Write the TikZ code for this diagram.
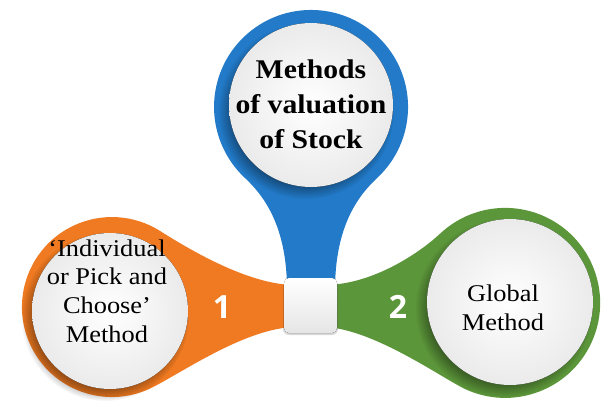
\documentclass[tikz,border=0pt]{standalone}
\usepackage{fontspec}
\setmainfont{Liberation Serif}[FakeStretch=1.1]
\newfontfamily\numfont{Open Sans}
\usetikzlibrary{fadings}
\definecolor{pinblue}{RGB}{34,122,200}
\definecolor{pinorange}{RGB}{239,122,33}
\definecolor{pingreen}{RGB}{92,150,58}
\tikzset{
  disc/.style={inner color=white, outer color=black!8},
  softshadow/.style={black, opacity=0.35, path fading=circle with fuzzy edge 15 percent},
  numlabel/.style={text=white, font=\numfont\bfseries\fontsize{32}{32}\selectfont},
  titletext/.style={align=center, font=\bfseries\fontsize{27}{35}\selectfont},
  bodytext/.style={align=center, font=\fontsize{24}{28.7}\selectfont},
  hubbox/.style={rounded corners=5pt, top color=white, bottom color=black!10},
}
\begin{document}
\begin{tikzpicture}[x=1pt,y=-1pt]
\useasboundingbox (0,0) rectangle (602,400);
% blue pin
\fill[pinblue] (377.2,177.9) arc[start angle=47,end angle=-227,radius=97]
  .. controls (263,195) and (287,225) .. (287,290) -- (335,290)
  .. controls (335,225) and (359,195) .. (377.2,177.9) -- cycle;
% orange pin
\fill[pinorange] (150,388.6) arc[start angle=65,end angle=302,radius=90]
  .. controls (187,248) and (248,285) .. (295,285) -- (295,327)
  .. controls (245,328) and (180,374) .. (150,388.6) -- cycle;
% green pin
\fill[pingreen] (440,233.7) .. controls (421.7,251) and (375,284) .. (326,285)
  -- (326,327) .. controls (375,330) and (442,378) .. (465,389)
  arc[start angle=115,end angle=-133,radius=95] -- cycle;
% shadows of the discs
\fill[softshadow] (306,111) circle[radius=88];
\fill[softshadow] (105,317) circle[radius=84];
\fill[softshadow] (504,308) circle[radius=89];
% discs
\fill[disc] (311,105) circle[radius=82];
\fill[disc] (110,311) circle[radius=78];
\fill[disc] (510,302) circle[radius=83];
% hub
\fill[black, opacity=0.15, rounded corners=6pt] (283,280) rectangle (338,335);
\fill[hubbox] (284,278) rectangle (337,333);
\coordinate (hub) at (310.5,305.5);
% texts
\node[titletext] (t0) at (311,104) {Methods\\of valuation\\of Stock};
\node[bodytext] (t1) at (107,291) {`Individual\\or Pick and\\Choose'\\Method};
\node[bodytext] (t2) at (503,308) {Global\\Method};
\node[numlabel] (n1) at (222,307) {1};
\node[numlabel] (n2) at (398,307) {2};
\end{tikzpicture}
\end{document}
